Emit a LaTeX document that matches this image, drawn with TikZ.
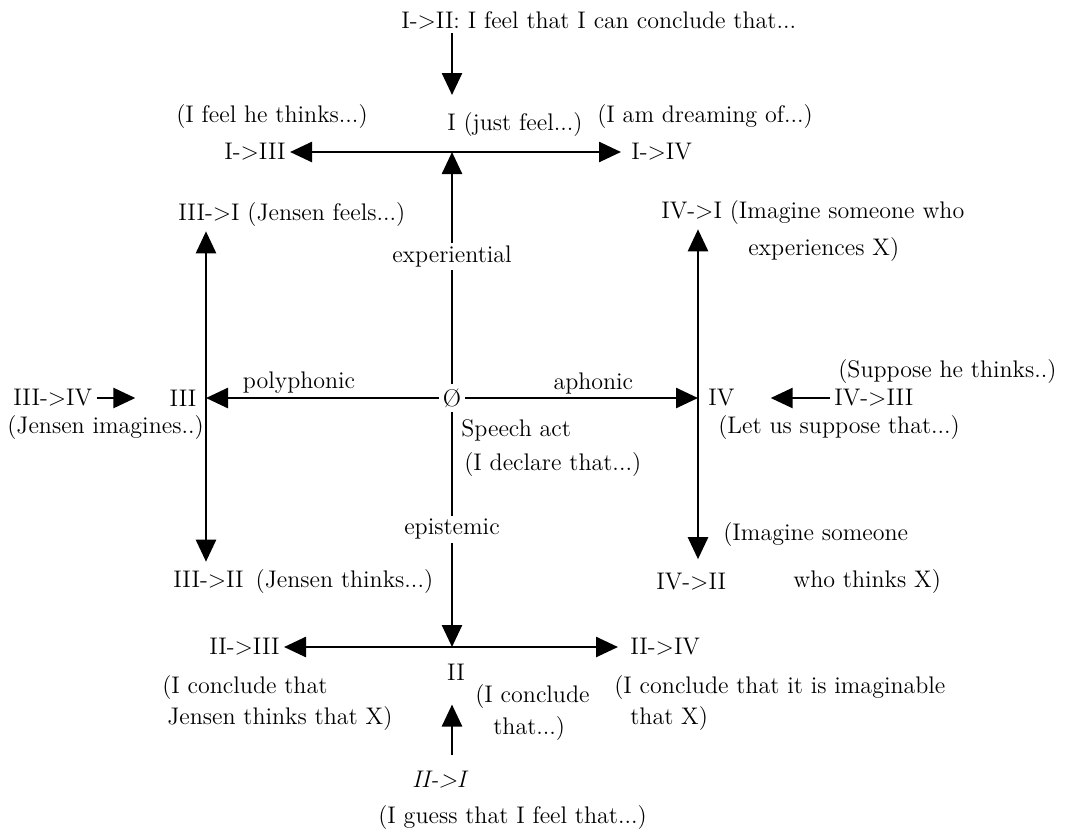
\documentclass[tikz,border=0pt]{standalone}
\usepackage{tikz}
\usetikzlibrary{arrows.meta}

\begin{document}
\begin{tikzpicture}[x=0.5pt,y=-0.5pt,line width=1.3pt,
	arr/.style={-{Triangle[length=11pt,width=10pt]}},
	txt/.style={inner sep=1.5pt,font=\fontsize{12}{14}\selectfont},
	every node/.style={txt}]
	\useasboundingbox (0,0) rectangle (1071,831);

	%CENTRE
	\node (O) at (452,398) {Ø};
	\coordinate (I) at (452,152);
	\coordinate (II) at (452,647);
	\coordinate (III) at (206,398);
	\coordinate (IV) at (698,398);
	\draw[arr] (O) -- node[pos=0.55,fill=white] (exp) {experiential} (I);
	\draw[arr] (O) -- node[pos=0.5,fill=white] (epi) {epistemic} (II);
	\draw[arr] (O) -- node[pos=0.6,above] (poly) {polyphonic} (III);
	\draw[arr] (O) -- node[pos=0.55,above] (apho) {aphonic} (IV);
	\node[anchor=west] (sa) at (457,430) {Speech act};
	\node[anchor=west] (decl) at (460,465) {(I declare that...)};

	%POLE I
	\node[anchor=west] (t12) at (397,20) {I->II: I feel that I can conclude that...};
	\coordinate (Itop) at (452,95);
	\draw[arr] (t12.south -| I) -- (Itop);
	\node[anchor=west] (lI) at (443,125) {I (just feel...)};
	\node[anchor=east] (t13) at (290,152) {I->III};
	\node[anchor=west] (t14) at (627,152) {I->IV};
	\node[anchor=west] (t13a) at (172,117) {(I feel he thinks...)};
	\node[anchor=west] (t14a) at (593,117) {(I am dreaming of...)};
	\draw[arr] (I) -- (t13);
	\draw[arr,shorten >=3pt] (I) -- (t14);

	%POLE III
	\node (lIII) at (183,398) {III};
	\node[anchor=west] (t34) at (9,398) {III->IV};
	\draw[arr,shorten >=15pt] (t34) -- (lIII);
	\node[anchor=west] (t34a) at (3,428) {(Jensen imagines..)};
	\node[anchor=west] (t31) at (174,215) {III->I (Jensen feels...)};
	\node[anchor=west] (t32) at (169,582) {III->II\enspace(Jensen thinks...)};
	\draw[arr] (III) -- (t31.south -| III);
	\draw[arr,shorten >=2pt] (III) -- (t32.north -| III);

	%POLE IV
	\node[anchor=west] (lIV) at (704,398) {IV};
	\node[anchor=west] (t43) at (830,398) {IV->III};
	\draw[arr,shorten >=16pt] (t43) -- (lIV);
	\node[anchor=west] (t43a) at (834,372) {(Suppose he thinks..)};
	\node[anchor=west] (t43b) at (714,428) {(Let us suppose that...)};
	\node[anchor=west] (t41) at (657,213) {IV->I (Imagine someone who};
	\node[anchor=west] (t41a) at (744,250) {experiences X)};
	\node[anchor=west] (t42) at (652,582) {IV->II};
	\node[anchor=west] (t42a) at (719,535) {(Imagine someone};
	\node[anchor=west] (t42b) at (789,582) {who thinks X)};
	\draw[arr] (IV) -- (t41.south -| IV);
	\draw[arr,shorten >=5pt] (IV) -- (t42.north -| IV);

	%POLE II
	\node (lII) at (456,672) {II};
	\node[anchor=east] (t23) at (284,647) {II->III};
	\node[anchor=west] (t24) at (626,647) {II->IV};
	\draw[arr] (II) -- (t23);
	\draw[arr,shorten >=4pt] (II) -- (t24);
	\node[anchor=west] (t23a) at (158,687) {(I conclude that};
	\node[anchor=west] (t23b) at (163,718) {Jensen thinks that X)};
	\node[anchor=west] (t24a) at (610,687) {(I conclude that it is imaginable};
	\node[anchor=west] (t24b) at (626,718) {that X)};
	\node[anchor=west] (lIIa) at (471,697) {(I conclude};
	\node[anchor=west] (lIIb) at (489,728) {that...)};
	\node[font=\fontsize{12}{14}\selectfont\itshape] (t21) at (439,780) {II->I};
	\node[anchor=west] (t21a) at (374,817) {(I guess that I feel that...)};
	\draw[arr,shorten <=6pt,shorten >=10pt] (t21.north -| II) -- (lII.south -| II);

\end{tikzpicture}
\end{document}
